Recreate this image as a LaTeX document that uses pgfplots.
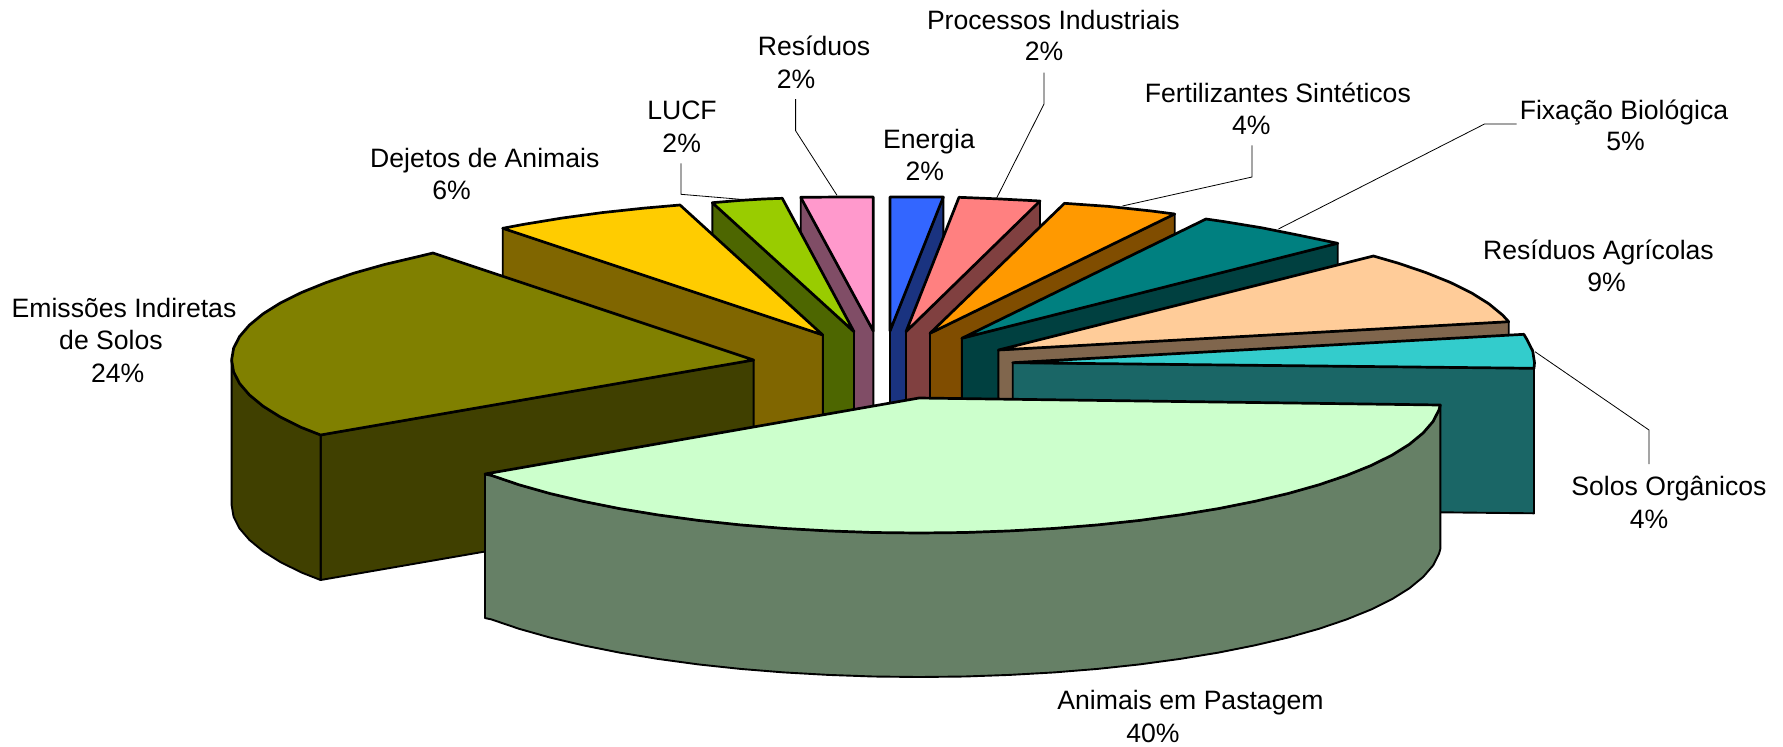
\documentclass[border=0pt]{standalone}
\usepackage{pgfplots}
\pgfplotsset{compat=1.18}
\usepackage{fontspec}
\setmainfont{Liberation Sans}
\definecolor{cOlT}{HTML}{808000}\definecolor{cOlS}{HTML}{404000}
\definecolor{cYeT}{HTML}{FFCC00}\definecolor{cYeS}{HTML}{806600}
\definecolor{cGrT}{HTML}{99CC00}\definecolor{cGrS}{HTML}{4D6600}
\definecolor{cPiT}{HTML}{FF99CC}\definecolor{cPiS}{HTML}{804D66}
\definecolor{cBlT}{HTML}{3366FF}\definecolor{cBlS}{HTML}{1A3380}
\definecolor{cSaT}{HTML}{FF8080}\definecolor{cSaS}{HTML}{804040}
\definecolor{cOrT}{HTML}{FF9900}\definecolor{cOrS}{HTML}{804D00}
\definecolor{cTeT}{HTML}{008080}\definecolor{cTeS}{HTML}{004040}
\definecolor{cPeT}{HTML}{FFCC99}\definecolor{cPeS}{HTML}{80664D}
\definecolor{cCyT}{HTML}{33CCCC}\definecolor{cCyS}{HTML}{1A6666}
\definecolor{cPaT}{HTML}{CCFFCC}\definecolor{cPaS}{HTML}{668066}
\pgfplotsset{
  top/.style={draw=black,line width=1.35pt,line join=round,fill=#1,mark=none},
  side/.style={draw=black,line width=0.95pt,line join=round,fill=#1,mark=none},
  lead/.style={draw=black,line width=0.4pt,mark=none}
}
\tikzset{lab/.style={anchor=base,inner sep=0pt,font=\fontsize{13.3}{16}\selectfont}}
\begin{document}
\begin{tikzpicture}
\begin{axis}[hide axis,scale only axis,width=891.5pt,height=373pt,
  xmin=0,xmax=1783,ymin=0,ymax=746,y dir=reverse,clip=false,axis on top=false]
\path (axis cs:0,0) (axis cs:1783,746);
% Residuos
\addplot[side=cPiS] coordinates {(800.7,197.3)(873.3,331)(873.3,476)(800.7,342)} -- cycle;
\addplot[top=cPiT] coordinates {(800.7,197.3)(840,197)(873.3,197)(873.3,331)} -- cycle;
% LUCF
\addplot[side=cGrS] coordinates {(712.3,202.7)(854,331.7)(854,476.7)(712.3,347.7)} -- cycle;
\addplot[top=cGrT] coordinates {(712.3,202.7)(740,200.4)(763,199)(782.3,198.3)(854,331.7)} -- cycle;
% Dejetos
\addplot[side=cYeS] coordinates {(502.7,228.3)(822.8,335)(822.8,480)(502.7,373)} -- cycle;
\addplot[top=cYeT] coordinates {(502.7,228.3)(523.4,224.4)(561.8,218.1)(602.2,212.6)(644.3,208.1)(680,205)(822.8,335)} -- cycle;
% Emissoes
\addplot[side=cOlS] coordinates {(320.6,435)(753.6,360)(753.6,505)(320.6,580)} -- cycle;
\addplot[side=cOlS] coordinates {(320.6,435)(301.5,427.5)(280.5,417.1)(263.1,406.2)(249.4,394.9)(239.5,383.4)(233.6,371.8)(231.6,360)
  (231.6,505)(233.6,516.8)(239.5,528.4)(249.4,539.9)(263.1,551.2)(280.5,562.1)(301.5,572.5)(320.6,580)} -- cycle;
\addplot[top=cOlT] coordinates {(753.6,360)(320.6,435)(301.5,427.5)(280.5,417.1)(263.1,406.2)(249.4,394.9)(239.5,383.4)(233.6,371.8)(231.6,360)
  (233.6,348.2)(239.5,336.6)(249.4,325.1)(263.1,313.8)(280.5,302.9)(301.5,292.5)(326,282.6)(353.7,273.2)(384.5,264.5)(418.1,256.6)(433,253)} -- cycle;
% Energia
\addplot[side=cBlS] coordinates {(943.3,197)(890,331)(890,476)(943.3,342)} -- cycle;
\addplot[top=cBlT] coordinates {(890,197)(943.3,197)(890,331)} -- cycle;
% Processos
\addplot[side=cSaS] coordinates {(1040,201)(906,331.7)(906,476.7)(1040,346)} -- cycle;
\addplot[top=cSaT] coordinates {(959,197.3)(996.6,198.8)(1040,201)(906,331.7)} -- cycle;
% Fertilizantes
\addplot[side=cOrS] coordinates {(1174.7,214)(930,333.3)(930,478.3)(1174.7,359)} -- cycle;
\addplot[top=cOrT] coordinates {(1064.5,203.3)(1108.5,206.4)(1150.6,210.9)(1174.7,214)(930,333.3)} -- cycle;
% Fixacao
\addplot[side=cTeS] coordinates {(1337.7,243.3)(961.8,338.3)(961.8,483.3)(1337.7,388.3)} -- cycle;
\addplot[top=cTeT] coordinates {(1206,219)(1222.8,221.4)(1261.2,227.7)(1297.3,234.9)(1337.7,243.3)(961.8,338.3)} -- cycle;
% Residuos Agricolas
\addplot[side=cPeS] coordinates {(1508.7,321.7)(998.4,350)(998.4,495)(1508.7,466.7)} -- cycle;
\addplot[top=cPeT] coordinates {(1373.4,256)(1398.3,263.2)(1426,272.6)(1450.5,282.5)(1471.5,292.9)(1488.9,303.8)(1502.6,315.1)(1508.7,321.7)(998.4,350)} -- cycle;
% Solos Organicos
\addplot[side=cCyS] coordinates {(1012.7,362.7)(1534,368.3)(1534,513.3)(1012.7,507.7)} -- cycle;
\addplot[top=cCyT] coordinates {(1523.8,334.3)(1526.8,339.3)(1532.7,350.9)(1534.5,362.7)(1534,368.3)(1012.7,362.7)} -- cycle;
% Animais em Pastagem
\addplot[side=cPaS] coordinates {(1440.3,405)(1439,409.8)(1433.1,421.4)(1423.2,432.9)(1409.5,444.2)(1392.1,455.1)(1371.1,465.5)(1346.6,475.4)(1318.9,484.8)(1288.1,493.5)(1254.5,501.4)(1218.4,508.6)(1180,514.9)(1139.6,520.4)(1097.5,524.9)(1054.1,528.4)(1009.6,530.9)(964.5,532.5)(919,533)(873.5,532.5)(828.4,530.9)(783.9,528.4)(740.5,524.9)(698.4,520.4)(658,514.9)(619.6,508.6)(583.5,501.4)(549.9,493.5)(519.1,484.8)(491.4,475.4)(485,474)
  (485,618)(491.4,619.4)(519.1,628.8)(549.9,637.5)(583.5,645.4)(619.6,652.6)(658,658.9)(698.4,664.4)(740.5,668.9)(783.9,672.4)(828.4,674.9)(873.5,676.5)(919,677)(964.5,676.5)(1009.6,674.9)(1054.1,672.4)(1097.5,668.9)(1139.6,664.4)(1180,658.9)(1218.4,652.6)(1254.5,645.4)(1288.1,637.5)(1318.9,628.8)(1346.6,619.4)(1371.1,609.5)(1392.1,599.1)(1409.5,588.2)(1423.2,576.9)(1433.1,565.4)(1439,553.8)(1440.3,549)} -- cycle;
\addplot[top=cPaT] coordinates {(919,398)(1440.3,405)(1439,409.8)(1433.1,421.4)(1423.2,432.9)(1409.5,444.2)(1392.1,455.1)(1371.1,465.5)(1346.6,475.4)(1318.9,484.8)(1288.1,493.5)(1254.5,501.4)(1218.4,508.6)(1180,514.9)(1139.6,520.4)(1097.5,524.9)(1054.1,528.4)(1009.6,530.9)(964.5,532.5)(919,533)(873.5,532.5)(828.4,530.9)(783.9,528.4)(740.5,524.9)(698.4,520.4)(658,514.9)(619.6,508.6)(583.5,501.4)(549.9,493.5)(519.1,484.8)(491.4,475.4)(485,474)} -- cycle;
% leader lines
\addplot[lead] coordinates {(681,163.3)(681,194.3)(740.5,199.3)};
\addplot[lead] coordinates {(795.6,99)(795.6,130.7)(837,195.3)};
\addplot[lead] coordinates {(1044,72.7)(1044,104)(996.8,197.7)};
\addplot[lead] coordinates {(1252,145.3)(1252,177)(1122.4,206)};
\addplot[lead] coordinates {(1516.6,124)(1484.5,124)(1278.4,229)};
\addplot[lead] coordinates {(1535,351.7)(1649,430)(1649,464)};
% labels
\node[lab] at (axis cs:124,317) {Emissões Indiretas};
\node[lab] at (axis cs:111,349) {de Solos};
\node[lab] at (axis cs:117.7,382) {24\%};
\node[lab] at (axis cs:484.8,167) {Dejetos de Animais};
\node[lab] at (axis cs:451.5,199) {6\%};
\node[lab] at (axis cs:682,119.7) {LUCF};
\node[lab] at (axis cs:681.7,152) {2\%};
\node[lab] at (axis cs:814,55) {Resíduos};
\node[lab] at (axis cs:796,88.5) {2\%};
\node[lab] at (axis cs:929,148.5) {Energia};
\node[lab] at (axis cs:924.8,180.7) {2\%};
\node[lab] at (axis cs:1053.4,29) {Processos Industriais};
\node[lab] at (axis cs:1044,60.7) {2\%};
\node[lab] at (axis cs:1277.8,102) {Fertilizantes Sintéticos};
\node[lab] at (axis cs:1251.4,134) {4\%};
\node[lab] at (axis cs:1624,119) {Fixação Biológica};
\node[lab] at (axis cs:1625.5,150.7) {5\%};
\node[lab] at (axis cs:1598.5,259) {Resíduos Agrícolas};
\node[lab] at (axis cs:1606.6,291.7) {9\%};
\node[lab] at (axis cs:1669,495.7) {Solos Orgânicos};
\node[lab] at (axis cs:1649,528.6) {4\%};
\node[lab] at (axis cs:1190.5,709) {Animais em Pastagem};
\node[lab] at (axis cs:1153,742.5) {40\%};
\end{axis}
\end{tikzpicture}
\end{document}
